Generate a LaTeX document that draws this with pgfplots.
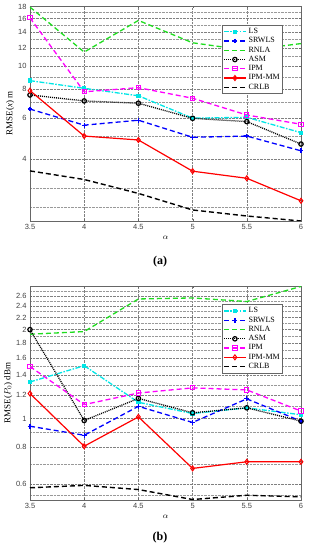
\documentclass[border=0pt]{standalone}
\usepackage{fontspec}
\setmainfont{Liberation Serif}
\setsansfont{Liberation Sans}
\usepackage{pgfplots}
\pgfplotsset{compat=1.18}
\definecolor{lscyan}{RGB}{0,230,230}
\definecolor{rngreen}{RGB}{30,220,30}
\definecolor{ipmmag}{RGB}{255,0,255}
\pgfplotsset{
  myaxis/.style={
    scale only axis, width=271pt,
    xmin=3.5, xmax=6,
    xtick={3.5,4,4.5,5,5.5,6}, xticklabels={3.5,4,4.5,5,5.5,6},
    /pgf/number format/assume math mode=true,
    ticklabel style={font=\fontsize{7.5}{8}\selectfont\sffamily, text=black!75},
    grid=both,
    major grid style={densely dotted, black!50, line width=0.45pt},
    minor grid style={densely dotted, black!40, line width=0.4pt},
    axis line style={black!60, line width=0.7pt},
    tick style={black!60},
    major tick length=2pt, minor tick length=0pt,
    xlabel={$\alpha$},
    xlabel style={font=\fontsize{8}{9}\selectfont, yshift=1pt},
    ylabel style={font=\fontsize{9}{10}\selectfont, yshift=-3pt},
    legend cell align=left,
    legend style={font=\fontsize{8}{9}\selectfont, draw=black!60, line width=0.7pt,
      inner sep=1pt, row sep=-1.5pt, anchor=north west},
    legend image code/.code={\draw[mark repeat=2,mark phase=2,##1] plot coordinates {(0pt,0pt)(11pt,0pt)(22pt,0pt)};},
  },
  lsS/.style={lscyan, line width=1.3pt, dash pattern=on 5pt off 1.5pt on 1.5pt off 1.5pt, mark=square*, mark size=1.5pt, mark options={solid}},
  srS/.style={blue, line width=1.3pt, dash pattern=on 5pt off 3pt, mark=+, mark size=2.4pt, mark options={solid, line width=1.3pt}},
  rnS/.style={rngreen, line width=1.3pt, dash pattern=on 5pt off 3pt},
  asS/.style={black, line width=1.3pt, dash pattern=on 1pt off 1pt, mark=o, mark size=2.2pt, mark options={solid, line width=1.2pt}},
  ipS/.style={ipmmag, line width=1.3pt, dash pattern=on 5pt off 3pt, mark=square, mark size=2.1pt, mark options={solid, line width=1pt}},
  mmS/.style={red, line width=1.2pt, mark=diamond, mark size=2.5pt, mark options={solid, line width=1pt}},
  crS/.style={black, line width=1.4pt, dash pattern=on 5pt off 3pt},
}
\begin{document}
\begin{tikzpicture}[x=1pt,y=1pt]
\path (0,0) rectangle (309,550);
% top axis
\begin{axis}[myaxis, ymode=log, height=215pt, at={(30pt,329pt)}, anchor=south west,
  ymin=2.18, ymax=18.1,
  ytick={4,6,8,10,12,14,16,18}, yticklabels={4,6,8,10,12,14,16,18},
  minor ytick={2.5,3,5,7,9,11,13,15,17},
  ylabel={RMSE(\textit{x}) m},
  legend style={at={(0.708,0.912)}},
]
\addplot[lsS] coordinates {(3.5,8.68)(4,8.05)(4.5,7.48)(5,6.0)(5.5,6.05)(6,5.2)};
\addlegendentry{LS}
\addplot[srS] coordinates {(3.5,6.56)(4,5.6)(4.5,5.88)(5,4.97)(5.5,5.03)(6,4.35)};
\addlegendentry{SRWLS}
\addplot[rnS] coordinates {(3.5,17.9)(4,11.5)(4.5,15.7)(5,12.6)(5.5,11.7)(6,12.5)};
\addlegendentry{RNLA}
\addplot[asS] coordinates {(3.5,7.54)(4,7.11)(4.5,6.95)(5,5.99)(5.5,5.8)(6,4.65)};
\addlegendentry{ASM}
\addplot[ipS] coordinates {(3.5,16.1)(4,7.78)(4.5,8.1)(5,7.3)(5.5,6.19)(6,5.65)};
\addlegendentry{IPM}
\addplot[mmS] coordinates {(3.5,7.87)(4,5.03)(4.5,4.84)(5,3.56)(5.5,3.32)(6,2.66)};
\addlegendentry{IPM-MM}
\addplot[crS] coordinates {(3.5,3.57)(4,3.28)(4.5,2.86)(5,2.43)(5.5,2.29)(6,2.18)};
\addlegendentry{CRLB}
\end{axis}
% bottom axis
\begin{axis}[myaxis, ymode=log, height=214pt, at={(30pt,50pt)}, anchor=south west,
  ymin=0.53, ymax=2.81,
  ytick={0.6,0.8,1,1.2,1.4,1.6,1.8,2,2.2,2.4,2.6},
  yticklabels={0.6,0.8,1,1.2,1.4,1.6,1.8,2,2.2,2.4,2.6},
  minor ytick={0.55,0.7,0.9,1.1,1.3,1.5,1.7,1.9,2.1,2.3,2.5,2.7},
  ylabel={RMSE($P_0$) dBm},
  legend style={at={(0.708,0.915)}},
]
\addplot[lsS] coordinates {(3.5,1.33)(4,1.51)(4.5,1.135)(5,1.04)(5.5,1.087)(6,1.03)};
\addlegendentry{LS}
\addplot[srS] coordinates {(3.5,0.942)(4,0.878)(4.5,1.10)(5,0.97)(5.5,1.166)(6,0.98)};
\addlegendentry{SRWLS}
\addplot[rnS] coordinates {(3.5,1.93)(4,1.97)(4.5,2.54)(5,2.56)(5.5,2.49)(6,2.80)};
\addlegendentry{RNLA}
\addplot[asS] coordinates {(3.5,2.0)(4,0.985)(4.5,1.17)(5,1.046)(5.5,1.087)(6,0.98)};
\addlegendentry{ASM}
\addplot[ipS] coordinates {(3.5,1.50)(4,1.115)(4.5,1.22)(5,1.27)(5.5,1.25)(6,1.06)};
\addlegendentry{IPM}
\addplot[mmS] coordinates {(3.5,1.215)(4,0.806)(4.5,1.013)(5,0.678)(5.5,0.714)(6,0.714)};
\addlegendentry{IPM-MM}
\addplot[crS] coordinates {(3.5,0.583)(4,0.594)(4.5,0.575)(5,0.532)(5.5,0.55)(6,0.543)};
\addlegendentry{CRLB}
\end{axis}
\node[font=\fontsize{12}{13}\selectfont\bfseries] at (160,288) {(a)};
\node[font=\fontsize{12}{13}\selectfont\bfseries] at (160,12) {(b)};
\end{tikzpicture}
\end{document}
